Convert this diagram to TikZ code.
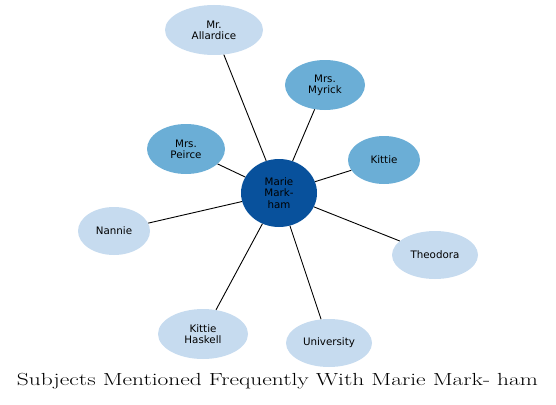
\documentclass[tikz,border=0pt]{standalone}
\usepackage{fontspec}
\setsansfont{DejaVu Sans}
\usetikzlibrary{shapes.geometric}
\definecolor{lightb}{HTML}{C6DBEF}
\definecolor{midb}{HTML}{6BAED6}
\definecolor{darkb}{HTML}{08519C}
\begin{document}
\begin{tikzpicture}[x=1pt,y=-1pt,
  blob/.style={ellipse,inner sep=0pt,align=center,font=\sffamily\fontsize{10.3}{11.3}\selectfont},
  lightblob/.style={blob,fill=lightb},
  midblob/.style={blob,fill=midb},
  hubblob/.style={blob,fill=darkb},
  link/.style={draw=black,line width=0.9pt}]
\useasboundingbox (0,0) rectangle (556,404);
\node[hubblob,minimum width=76,minimum height=68] (m) at (279,193) {Marie\\Mark-\\ham};
\node[lightblob,minimum width=98,minimum height=50] (a) at (214,30) {Mr.\\Allardice};
\node[midblob,minimum width=80,minimum height=50] (my) at (325,85) {Mrs.\\Myrick};
\node[midblob,minimum width=72,minimum height=48] (k) at (384,160) {Kittie};
\node[midblob,minimum width=78,minimum height=50] (p) at (186,149) {Mrs.\\Peirce};
\node[lightblob,minimum width=72,minimum height=48] (n) at (114,231) {Nannie};
\node[lightblob,minimum width=86,minimum height=48] (t) at (435,255) {Theodora};
\node[lightblob,minimum width=90,minimum height=50] (kh) at (203,334) {Kittie\\Haskell};
\node[lightblob,minimum width=86,minimum height=48] (u) at (329,343) {University};
\foreach \o in {a,my,k,p,n,t,kh,u} \draw[link] (m) -- (\o);
\node[anchor=base,inner sep=0pt,font=\fontsize{17.5}{20}\selectfont] (title) at (277.5,385) {\resizebox{521pt}{\height}{Subjects Mentioned Frequently With Marie Mark- ham}};
\end{tikzpicture}
\end{document}
